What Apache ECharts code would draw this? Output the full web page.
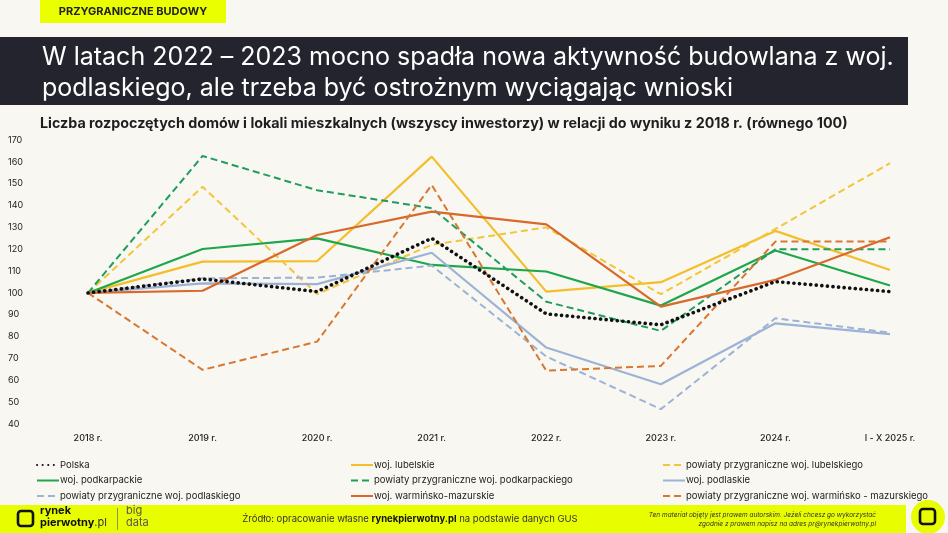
<!DOCTYPE html>
<html><head><meta charset="utf-8">
<script src="https://cdn.jsdelivr.net/npm/echarts@6/dist/echarts.min.js"></script>
<style>html,body{margin:0;padding:0;background:#f8f7f2;}#c{width:948px;height:533px;}</style>
</head><body><div id="c"></div>
<script>
var categories = ['2018 r.','2019 r.','2020 r.','2021 r.','2022 r.','2023 r.','2024 r.','I - X 2025 r.'];
var polska = [100, 106.4, 100.6, 125, 90.4, 85.4, 105.2, 100.6];
var wojLubelskie = [100, 114.3, 114.6, 162.4, 100.6, 104.9, 128.4, 110.5];
var powLubelskie = [100, 148.6, 99.5, 122, 130, 99.4, 129.3, 159.4];
var wojPodkarpackie = [100, 120.1, 125, 112.8, 109.8, 94.2, 119.4, 103.4];
var powPodkarpackie = [100, 162.7, 147, 138.8, 96, 82.6, 120, 120];
var wojPodlaskie = [100, 104.4, 104, 118.4, 75, 58.2, 86.1, 81.1];
var powPodlaskie = [100, 106.7, 107, 112.5, 70.9, 46.8, 88.4, 81.8];
var wojWarminsko = [100, 101, 126.5, 137.2, 131.4, 93.7, 106, 125.5];
var powWarminsko = [100, 64.8, 77.7, 149.4, 64.4, 66.6, 123.5, 123.5];
var names = ['Polska','woj. lubelskie','powiaty przygraniczne woj. lubelskiego','woj. podkarpackie','powiaty przygraniczne woj. podkarpackiego','woj. podlaskie','powiaty przygraniczne woj. podlaskiego','woj. warmińsko-mazurskie','powiaty przygraniczne woj. warmińsko - mazurskiego'];
var yTicks = {min: 40, max: 170, interval: 10};

var FONT = 'Inter, "Noto Sans", sans-serif';
var styles = [
  {color:'#111111', type:[0.1,5.5], width:3.6, cap:'round'},
  {color:'#f4be2a', type:'solid', width:2.2},
  {color:'#f2c63c', type:[7,4], width:2},
  {color:'#1ea64b', type:'solid', width:2.2},
  {color:'#1f9d5c', type:[7,4], width:2},
  {color:'#9cb3d6', type:'solid', width:2.2},
  {color:'#9cb3d6', type:[7,4], width:2},
  {color:'#d9692a', type:'solid', width:2.2},
  {color:'#d8772f', type:[7,4], width:2}
];
var datas = [polska, wojLubelskie, powLubelskie, wojPodkarpackie, powPodkarpackie, wojPodlaskie, powPodlaskie, wojWarminsko, powWarminsko];
var series = datas.map(function(d, i){
  var s = styles[i];
  return {name: names[i], type:'line', data:d, symbol:'none', smooth:false,
    z: i===0 ? 10 : 2,
    lineStyle:{color:s.color, type:s.type, width:s.width, cap:s.cap||'butt'},
    itemStyle:{color:s.color}};
});
function legendCol(x, idx){
  return {show:true, orient:'vertical', left:x, top:455, itemGap:5.5, itemWidth:22, itemHeight:10,
    data: idx.map(function(i){return names[i];}),
    itemStyle:{opacity:0},
    textStyle:{fontFamily:FONT, fontSize:9.5, color:'#222', padding:[0,0,0,-4]},
    selectedMode:false};
}
var chart = echarts.init(document.getElementById('c'));
chart.setOption({
  backgroundColor:'#f8f7f2',
  animation:false,
  grid:{left:88, right:58, top:140, bottom:109, containLabel:false},
  xAxis:{type:'category', data:categories, boundaryGap:false,
    axisLine:{show:false}, axisTick:{show:false}, splitLine:{show:false},
    axisLabel:{fontFamily:FONT, fontSize:9, color:'#222', fontWeight:500, margin:10, interval:0}},
  yAxis:{type:'value', min:yTicks.min, max:yTicks.max, interval:yTicks.interval,
    axisLine:{show:false}, axisTick:{show:false}, splitLine:{show:false},
    axisLabel:{fontFamily:FONT, fontSize:9, color:'#222', align:'left', margin:80}},
  legend:[
    legendCol(31,[0,3,6]),
    legendCol(345,[1,4,7]),
    legendCol(657,[2,5,8])
  ],
  series: series,
  graphic:[
    {type:'rect', shape:{x:40,y:0,width:186,height:23}, style:{fill:'#eaff00'}},
    {type:'text', x:133, y:12, style:{text:'PRZYGRANICZNE BUDOWY', fontFamily:FONT, fontSize:11, fontWeight:'bold', fill:'#222', align:'center', verticalAlign:'middle'}},
    {type:'rect', shape:{x:0,y:37,width:908,height:68}, style:{fill:'#24242f'}},
    {type:'text', x:42, y:57, style:{text:'W latach 2022 – 2023 mocno spadła nowa aktywność budowlana z woj.', fontFamily:FONT, fontSize:25, fill:'#ffffff', verticalAlign:'middle'}},
    {type:'text', x:42, y:88, style:{text:'podlaskiego, ale trzeba być ostrożnym wyciągając wnioski', fontFamily:FONT, fontSize:25, fill:'#ffffff', verticalAlign:'middle'}},
    {type:'text', x:40, y:124, style:{text:'Liczba rozpoczętych domów i lokali mieszkalnych (wszyscy inwestorzy) w relacji do wyniku z 2018 r. (równego 100)', fontFamily:FONT, fontSize:14.3, fontWeight:'bold', fill:'#1e1e1e', verticalAlign:'middle'}},
    {type:'rect', shape:{x:0,y:505,width:906,height:28}, style:{fill:'#e8fd00'}},
    {type:'circle', shape:{cx:928,cy:517,r:17}, style:{fill:'#e8fd00'}},
    {type:'rect', shape:{x:920,y:509,width:15,height:15,r:3}, style:{fill:'none', stroke:'#111', lineWidth:2.6}},
    {type:'rect', shape:{x:18,y:511,width:15,height:15,r:3}, style:{fill:'none', stroke:'#111', lineWidth:2.6}},
    {type:'text', x:40, y:511, style:{text:'rynek', fontFamily:FONT, fontSize:11, fontWeight:'bold', fill:'#111', verticalAlign:'middle'}},
    {type:'text', x:40, y:523, style:{text:'{b|pierwotny}{l|.pl}', rich:{b:{fontFamily:FONT, fontSize:11, fontWeight:'bold', fill:'#111'}, l:{fontFamily:FONT, fontSize:11, fill:'#333'}}, verticalAlign:'middle'}},
    {type:'rect', shape:{x:117,y:508,width:0.8,height:22}, style:{fill:'#777'}},
    {type:'text', x:126, y:511, style:{text:'big', fontFamily:FONT, fontSize:11, fill:'#555', verticalAlign:'middle'}},
    {type:'text', x:126, y:523, style:{text:'data', fontFamily:FONT, fontSize:11, fill:'#555', verticalAlign:'middle'}},
    {type:'text', x:410, y:519, style:{text:'{n|Źródło: opracowanie własne }{b|rynekpierwotny.pl}{n| na podstawie danych GUS}', rich:{n:{fontFamily:FONT, fontSize:9.5, fill:'#333'}, b:{fontFamily:FONT, fontSize:9.5, fontWeight:'bold', fill:'#111'}}, align:'center', verticalAlign:'middle'}},
    {type:'text', x:876, y:515, style:{text:'Ten materiał objęty jest prawem autorskim. Jeżeli chcesz go wykorzystać', fontFamily:FONT, fontSize:6.5, fontStyle:'italic', fill:'#333', align:'right', verticalAlign:'middle'}},
    {type:'text', x:876, y:524, style:{text:'{n|zgodnie z prawem napisz na adres }{u|pr@rynekpierwotny.pl}', rich:{n:{fontFamily:FONT, fontSize:6.5, fontStyle:'italic', fill:'#333'}, u:{fontFamily:FONT, fontSize:6.5, fontStyle:'italic', fill:'#333', textDecoration:'underline'}}, align:'right', verticalAlign:'middle'}}
  ]
});
</script>
</body></html>
